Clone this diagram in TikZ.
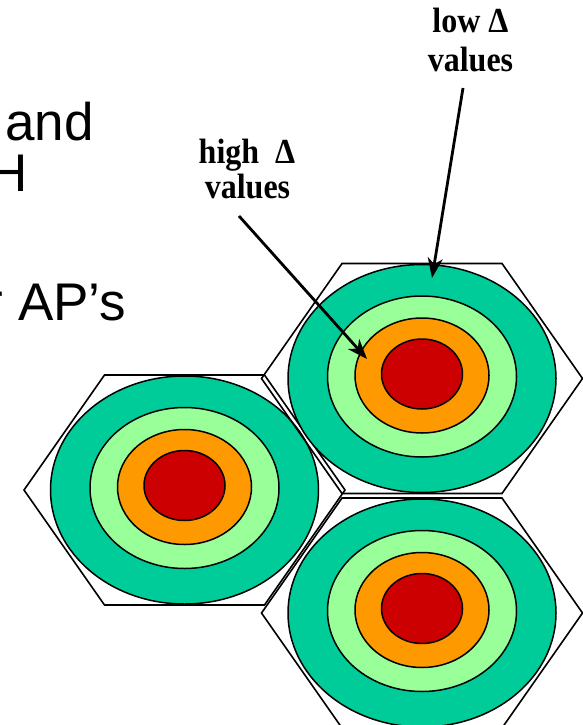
\documentclass[tikz,border=0pt]{standalone}
\usepackage{fontspec}
\usepackage{graphicx}
\setmainfont{Liberation Serif}
\newfontfamily\arialfont{Liberation Sans}
\usetikzlibrary{arrows.meta,shapes.geometric}
\definecolor{cgreen}{RGB}{0,204,153}
\definecolor{clight}{RGB}{153,255,153}
\definecolor{corange}{RGB}{255,153,0}
\definecolor{cred}{RGB}{204,0,0}
\tikzset{
  hexline/.style={draw=black, line width=1.6pt, line join=miter},
  ring/.style={ellipse, draw=black, line width=1.5pt, inner sep=0pt, outer sep=0pt},
  slide/.style={font=\arialfont\fontsize{53}{60}\selectfont, inner sep=0pt, text=black},
  lbl/.style={font=\bfseries\fontsize{32}{36}\selectfont, inner sep=0pt, anchor=base},
  arr/.style={line width=2.8pt, -{Stealth[length=20pt,width=15pt,inset=6pt]}},
  hexcell/.pic={
    \draw[hexline] (-160.5,0) -- (-80,-115) -- (80,-115) -- (160.5,0) -- (80,115) -- (-80,115) -- cycle;
    \node[ring, fill=cgreen, minimum width=268pt, minimum height=228pt] (-outer) at (0,0) {};
    \node[ring, fill=clight, minimum width=189pt, minimum height=161pt] (-light) at (0,-2) {};
    \node[ring, fill=corange, minimum width=134pt, minimum height=115pt] (-orange) at (0,-3) {};
    \node[ring, fill=cred, minimum width=81pt, minimum height=70pt] (-red) at (0,-4.5) {};
  }
}
\begin{document}
\begin{tikzpicture}[x=1pt, y=-1pt]
  \useasboundingbox (0,0) rectangle (583,725);
  \clip (0,0) rectangle (583,725);
  % cells
  \pic (L) at (184.5,490) {hexcell};
  \pic (TR) at (422,378.5) {hexcell};
  \pic (BR) at (422,613) {hexcell};
  % slide text (cut off at the left)
  \node[slide, anchor=base west] (andtxt) at (5,140) {and};
  \node[slide, anchor=base east] (htxt) at (28,191) {H};
  \node[slide, anchor=base east] (aptxt) at (126.5,320) {r AP’s};
  % labels
  \node[lbl] (lowA) at (470.5,33) {\scalebox{1}[1.1]{low Δ}};
  \node[lbl] (lowB) at (470.5,71) {\scalebox{1}[1.1]{values}};
  \node[lbl] (highA) at (247,163) {\scalebox{1}[1.1]{high~~Δ}};
  \node[lbl] (highB) at (247.5,198) {\scalebox{1}[1.1]{values}};
  % arrows
  \coordinate (lowstart) at (463,88);
  \coordinate (lowtip) at (432,278);
  \coordinate (highstart) at (239,216);
  \coordinate (hightip) at (367,359);
  \draw[arr] (lowstart) -- (lowtip);
  \draw[arr] (highstart) -- (hightip);
\end{tikzpicture}
\end{document}
